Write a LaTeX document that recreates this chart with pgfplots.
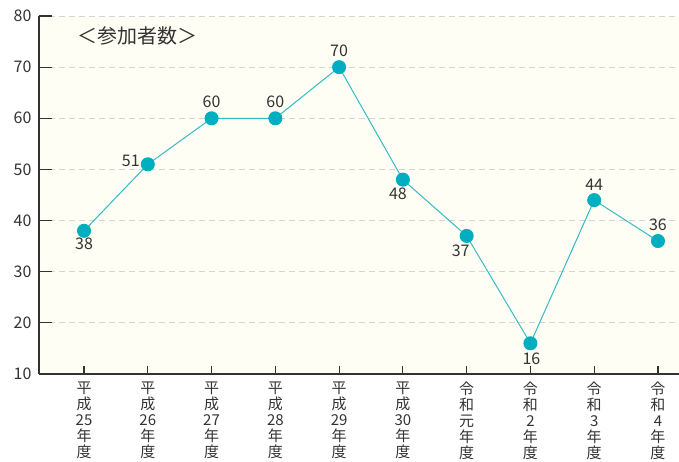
\documentclass[border=0pt]{standalone}
\usepackage{pgfplots}
\pgfplotsset{compat=1.18}
\usepackage{fontspec}
\setmainfont{Noto Sans CJK JP}
\definecolor{bgc}{HTML}{FFFEF5}
\definecolor{markc}{HTML}{00AFBF}
\definecolor{linec}{HTML}{33BBC8}
\definecolor{txt}{HTML}{333333}
\definecolor{gridc}{HTML}{D5D5D5}
\begin{document}
\begin{tikzpicture}
\begin{axis}[
  at={(0,0)}, anchor=south west,
  scale only axis, width=640pt, height=358pt,
  xmin=-0.706, xmax=9.33, ymin=10, ymax=80,
  axis x line*=bottom, axis y line*=left,
  axis line style={txt, line width=1.2pt, -},
  axis background/.style={fill=bgc},
  ytick={10,20,...,80},
  xtick={0,...,9},
  xticklabels={{平\\成\\25\\年\\度},{平\\成\\26\\年\\度},{平\\成\\27\\年\\度},{平\\成\\28\\年\\度},{平\\成\\29\\年\\度},{平\\成\\30\\年\\度},{令\\和\\元\\年\\度},{令\\和\\2\\年\\度},{令\\和\\3\\年\\度},{令\\和\\4\\年\\度}},
  tick align=inside,
  major tick length=8pt,
  tick style={txt, line width=1.2pt},
  ymajorgrids,
  grid style={gridc, dash pattern=on 6pt off 4pt, line width=0.8pt},
  yticklabel style={font=\fontsize{16}{16}\selectfont, text=txt, xshift=-4pt},
  xticklabel style={font=\fontsize{15}{16}\selectfont, text=txt, align=center, inner sep=0pt, yshift=-8pt},
  /pgf/number format/assume math mode=true,
  clip=false,
]
\pgfplotsinvokeforeach{20,30,40,50,60,70,80}{
  \draw[txt, line width=1.2pt] ({rel axis cs:0,0}|-{axis cs:0,#1}) -- ++(13pt,0pt);
}
\addplot[linec, line width=1pt, mark=*, mark size=6.5pt, mark options={fill=markc, draw=markc, solid}]
  coordinates {(0,38)(1,51)(2,60)(3,60)(4,70)(5,48)(6,37)(7,16)(8,44)(9,36)};
\begin{scope}[every node/.style={font=\fontsize{16}{16}\selectfont, text=txt, inner sep=0pt, anchor=center}]
\node[xshift=0pt, yshift=-13pt] at (axis cs:0,38) {38};
\node[xshift=-17pt, yshift=3pt] at (axis cs:1,51) {51};
\node[yshift=16pt] at (axis cs:2,60) {60};
\node[yshift=16pt] at (axis cs:3,60) {60};
\node[yshift=16pt] at (axis cs:4,70) {70};
\node[xshift=-5pt, yshift=-14pt] at (axis cs:5,48) {48};
\node[xshift=-6pt, yshift=-15pt] at (axis cs:6,37) {37};
\node[xshift=1pt, yshift=-15pt] at (axis cs:7,16) {16};
\node[yshift=15pt] at (axis cs:8,44) {44};
\node[yshift=16pt] at (axis cs:9,36) {36};
\end{scope}
\node[font=\fontsize{20}{20}\selectfont, text=txt, inner sep=0pt] at (axis cs:0.84,76.1) {＜参加者数＞};
\end{axis}
\pgfresetboundingbox
\path (-39pt,-88pt) rectangle (640pt,374pt);
\end{tikzpicture}
\end{document}
